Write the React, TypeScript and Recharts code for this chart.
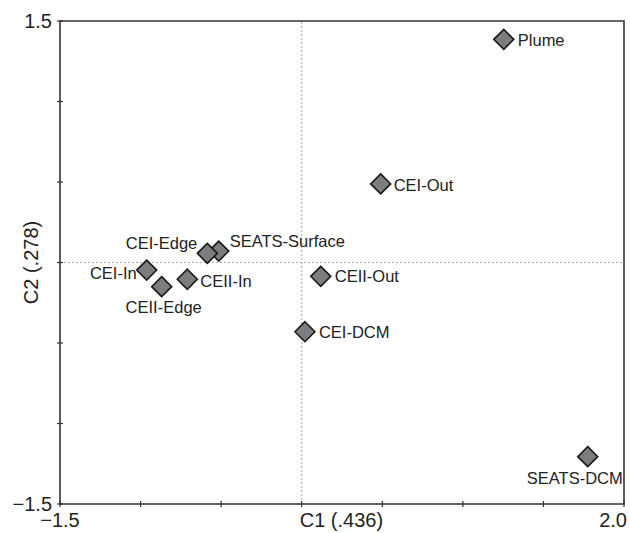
import {
  ScatterChart,
  Scatter,
  XAxis,
  YAxis,
  ReferenceLine,
  ReferenceArea,
} from "recharts";

const FONT = '"Liberation Sans", Arial, Helvetica, sans-serif';

// CCA site scores
const sites = [
  "Plume",
  "CEI-Out",
  "SEATS-Surface",
  "CEI-Edge",
  "CEI-In",
  "CEII-Edge",
  "CEII-In",
  "CEII-Out",
  "CEI-DCM",
  "SEATS-DCM",
];
const c1Scores = [1.254, 0.49, -0.515, -0.586, -0.962, -0.869, -0.71, 0.118, 0.02, 1.775];
const c2Scores = [1.386, 0.488, 0.071, 0.057, -0.047, -0.15, -0.104, -0.086, -0.43, -1.206];

const xTicks = [-1.5, -1, -0.5, 0, 0.5, 1, 1.5, 2];
const yTicks = [-1.5, -1, -0.5, 0, 0.5, 1, 1.5];
const xTickLabels: Record<number, string> = { [-1.5]: "\u22121.5", 0: "C1 (.436)", 2: "2.0" };
const yTickLabels: Record<number, string> = { [-1.5]: "\u22121.5", 0: "C2 (.278)", 1.5: "1.5" };

// where each site name sits relative to its marker: dx, dy, anchor
const labelPlacement: Record<string, [number, number, "start" | "middle" | "end"]> = {
  Plume: [14, 1, "start"],
  "CEI-Out": [13, 1, "start"],
  "SEATS-Surface": [11, -10, "start"],
  "CEI-Edge": [-10, -10, "end"],
  "CEI-In": [-10, 3, "end"],
  "CEII-Edge": [2, 20, "middle"],
  "CEII-In": [13, 2, "start"],
  "CEII-Out": [14, 0, "start"],
  "CEI-DCM": [14, 0, "start"],
  "SEATS-DCM": [-13, 21, "middle"],
};

const data = sites.map((site, i) => ({ site, c1: c1Scores[i], c2: c2Scores[i] }));

const DiamondWithLabel = (props: any) => {
  const { cx, cy, payload } = props;
  const r = 10;
  const [dx, dy, anchor] = labelPlacement[payload.site] ?? [12, 0, "start"];
  return (
    <g>
      <polygon
        points={`${cx},${cy - r} ${cx + r},${cy} ${cx},${cy + r} ${cx - r},${cy}`}
        fill="#7d7d7d"
        stroke="#1a1a1a"
        strokeWidth={1.6}
      />
      <text
        x={cx + dx}
        y={cy + dy}
        textAnchor={anchor}
        dominantBaseline="central"
        fontSize={16.5}
        fontFamily={FONT}
        fill="#222"
      >
        {payload.site}
      </text>
    </g>
  );
};

const renderXTick = (props: any) => {
  const { x, y, payload } = props;
  const label = xTickLabels[payload.value];
  const isEnd = payload.value === 2;
  const isTitle = payload.value === 0;
  return (
    <g key={`xt-${payload.value}`}>
      <line x1={x} x2={x} y1={y - 3} y2={y + 3} stroke="#333" strokeWidth={1.2} />
      {label && (
        <text
          x={isEnd ? x + 3 : isTitle ? x - 2 : x}
          y={y + 16}
          textAnchor={isEnd ? "end" : isTitle ? "start" : "middle"}
          dominantBaseline="central"
          fontSize={20}
          fontFamily={FONT}
          fill="#222"
        >
          {label}
        </text>
      )}
    </g>
  );
};

const renderYTick = (props: any) => {
  const { x, y, payload } = props;
  const label = yTickLabels[payload.value];
  const isTitle = payload.value === 0;
  return (
    <g key={`yt-${payload.value}`}>
      <line x1={x - 3} x2={x + 3} y1={y} y2={y} stroke="#333" strokeWidth={1.2} />
      {label &&
        (isTitle ? (
          <text
            x={31}
            y={y}
            transform={`rotate(-90 31 ${y})`}
            textAnchor="middle"
            dominantBaseline="central"
            fontSize={20}
            fontFamily={FONT}
            fill="#222"
          >
            {label}
          </text>
        ) : (
          <text
            x={x - 8}
            y={y}
            textAnchor="end"
            dominantBaseline="central"
            fontSize={20}
            fontFamily={FONT}
            fill="#222"
          >
            {label}
          </text>
        ))}
    </g>
  );
};

export default function App() {
  return (
    <div style={{ position: "absolute", left: 0, top: 0, background: "#fff" }}>
      <ScatterChart
        width={630}
        height={533}
        margin={{ top: 21, right: 6, bottom: 0, left: 0 }}
      >
        <XAxis
          type="number"
          dataKey="c1"
          domain={[-1.5, 2]}
          ticks={xTicks}
          interval={0}
          height={29}
          tickSize={0}
          tickMargin={0}
          axisLine={false}
          tickLine={false}
          tick={renderXTick}
          allowDataOverflow
        />
        <YAxis
          type="number"
          dataKey="c2"
          domain={[-1.5, 1.5]}
          ticks={yTicks}
          interval={0}
          width={60}
          tickSize={0}
          tickMargin={0}
          axisLine={false}
          tickLine={false}
          tick={renderYTick}
          allowDataOverflow
        />
        <ReferenceLine x={0} stroke="#a8a8a8" strokeDasharray="2 2" />
        <ReferenceLine y={0} stroke="#a8a8a8" strokeDasharray="2 2" />
        <ReferenceArea
          x1={-1.5}
          x2={2}
          y1={-1.5}
          y2={1.5}
          fill="none"
          fillOpacity={0}
          stroke="#333"
          strokeWidth={1.6}
          strokeOpacity={1}
        />
        <Scatter data={data} shape={<DiamondWithLabel />} isAnimationActive={false} />
      </ScatterChart>
    </div>
  );
}
